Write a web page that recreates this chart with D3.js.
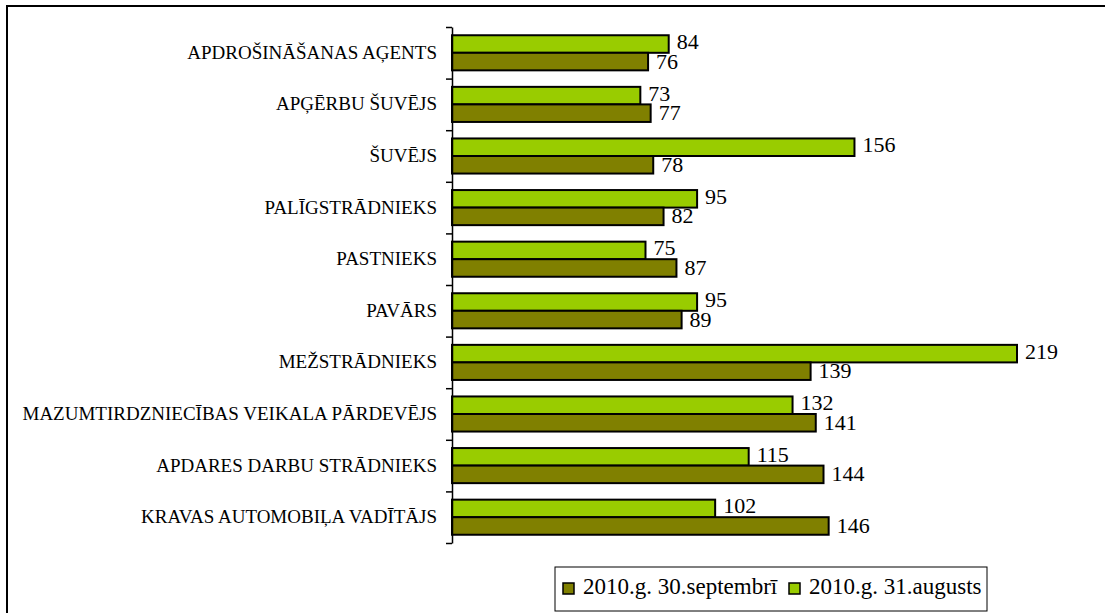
<!DOCTYPE html>
<html>
<head>
<meta charset="utf-8">
<script src="https://cdn.jsdelivr.net/npm/d3@7"></script>
<style>
  body { margin: 0; background: #fff; }
  svg { display: block; }
</style>
</head>
<body>
<div id="plot"></div>
<script>
// categories top to bottom
const categories = [
  'APDROŠINĀŠANAS AĢENTS',
  'APĢĒRBU ŠUVĒJS',
  'ŠUVĒJS',
  'PALĪGSTRĀDNIEKS',
  'PASTNIEKS',
  'PAVĀRS',
  'MEŽSTRĀDNIEKS',
  'MAZUMTIRDZNIECĪBAS VEIKALA PĀRDEVĒJS',
  'APDARES DARBU STRĀDNIEKS',
  'KRAVAS AUTOMOBIĻA VADĪTĀJS'
];
const augusts = [84, 73, 156, 95, 75, 95, 219, 132, 115, 102];
const septembri = [76, 77, 78, 82, 87, 89, 139, 141, 144, 146];
const seriesNames = ['2010.g. 31.augusts', '2010.g. 30.septembrī'];
const legendNames = ['2010.g. 30.septembrī', '2010.g. 31.augusts'];

const width = 1105;
const height = 613;
const serif = '"Liberation Serif", "Times New Roman", serif';
const colors = { '2010.g. 31.augusts': '#99cc00', '2010.g. 30.septembrī': '#808000' };

const svg = d3.select('#plot')
  .append('svg')
  .attr('width', width)
  .attr('height', height);

// outer frame (right and bottom edges fall outside the view)
svg.append('rect')
  .attr('x', 7)
  .attr('y', 6)
  .attr('width', width + 20)
  .attr('height', height + 20)
  .attr('fill', 'none')
  .attr('stroke', '#000')
  .attr('stroke-width', 2);

const x0 = 452;
const plotTop = 27;
const plotBottom = 543;

const x = d3.scaleLinear()
  .domain([0, 219])
  .range([x0, 1017]);

const y = d3.scaleBand()
  .domain(categories)
  .range([plotTop, plotBottom])
  .paddingInner(0.32)
  .paddingOuter(0.16);

const ySub = d3.scaleBand()
  .domain(seriesNames)
  .range([0, y.bandwidth()]);

// rows of data
const rows = categories.map((c, i) => ({
  cat: c,
  vals: [
    { name: seriesNames[0], v: augusts[i] },
    { name: seriesNames[1], v: septembri[i] }
  ]
}));

const groups = svg.append('g')
  .selectAll('g')
  .data(rows)
  .enter()
  .append('g')
  .attr('transform', d => `translate(0,${y(d.cat)})`);

groups.selectAll('rect')
  .data(d => d.vals)
  .enter()
  .append('rect')
  .attr('x', x(0))
  .attr('y', d => ySub(d.name))
  .attr('width', d => x(d.v) - x(0))
  .attr('height', ySub.bandwidth())
  .attr('fill', d => colors[d.name])
  .attr('stroke', '#000')
  .attr('stroke-width', 2);

// value labels
groups.selectAll('text')
  .data(d => d.vals)
  .enter()
  .append('text')
  .attr('x', d => x(d.v) + 8)
  .attr('y', (d, i) => ySub(d.name) + ySub.bandwidth() / 2 + (i === 0 ? 5 : 7))
  .attr('font-family', serif)
  .style('font-size', '22px')
  .attr('fill', '#000')
  .text(d => d.v);

// category axis: boundary ticks
const edge = d3.scaleLinear()
  .domain([0, categories.length])
  .range([plotTop, plotBottom]);

svg.append('g')
  .attr('transform', `translate(${x0},0)`)
  .call(d3.axisLeft(edge)
    .tickValues(d3.range(categories.length + 1))
    .tickFormat('')
    .tickSizeInner(6)
    .tickSizeOuter(0))
  .call(g => g.selectAll('line, path').attr('stroke', '#000').attr('stroke-width', 1.5));

// category labels
svg.append('g')
  .attr('transform', `translate(${x0},0)`)
  .call(d3.axisLeft(y).tickSize(0).tickPadding(15))
  .call(g => g.select('.domain').remove())
  .selectAll('text')
  .attr('font-family', serif)
  .style('font-size', '19px')
  .attr('fill', '#000');

// legend
const legend = svg.append('g')
  .attr('transform', 'translate(555,567)');

legend.append('rect')
  .attr('width', 432)
  .attr('height', 44)
  .attr('fill', '#fff')
  .attr('stroke', '#000')
  .attr('stroke-width', 1);

const legendX = [8, 234];
legendNames.forEach((n, i) => {
  const item = legend.append('g')
    .attr('transform', `translate(${legendX[i]},16)`);
  item.append('rect')
    .attr('x', 0)
    .attr('y', 0)
    .attr('width', 11)
    .attr('height', 11)
    .attr('fill', colors[n])
    .attr('stroke', '#000')
    .attr('stroke-width', 1.5);
  item.append('text')
    .attr('x', 20)
    .attr('y', 11)
    .attr('font-family', serif)
    .style('font-size', '23px')
    .attr('fill', '#000')
    .text(n);
});
</script>
</body>
</html>
